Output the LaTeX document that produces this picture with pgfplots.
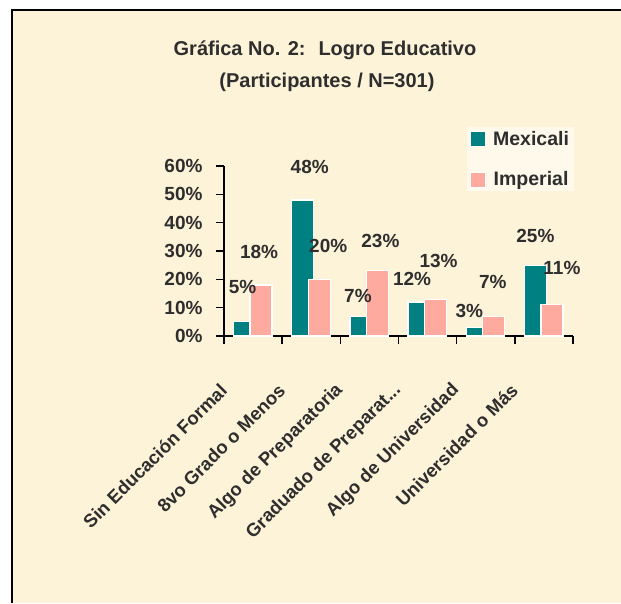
\documentclass[border=0pt]{standalone}
\usepackage{pgfplots}
\pgfplotsset{compat=1.18}
\usepackage{pgfplotstable}
\usepackage{fontspec}
\setmainfont{Liberation Sans}

\definecolor{cream}{HTML}{FDF3D8}
\definecolor{tealbar}{HTML}{008080}
\definecolor{pinkbar}{HTML}{FFAA9F}
\definecolor{ink}{HTML}{2E2E2E}

% x, value, label offset from category centre (dx) and above bar top (dy)
\pgfplotstableread{
x y dx dy
0 5 -10.5 35
1 48 -1.5 33
2 7 -11.5 20
3 12 -15.5 23
4 3 -16.5 17
5 25 -8.5 29
}\mexicali
\pgfplotstableread{
x y dx dy
0 18 6 33
1 20 17 33
2 23 11 30
3 13 11 38
4 7 7 34
5 11 18 37
}\imperial

\begin{document}
\begin{tikzpicture}
\useasboundingbox (0pt,0pt) rectangle (621pt,603pt);
\fill[white] (0pt,0pt) rectangle (621pt,603pt);
\fill[cream] (12pt,0pt) rectangle (621pt,593pt);
\draw[line width=2pt,black] (12pt,0pt) -- (12pt,593pt) -- (621pt,593pt);
\node[font=\fontsize{20}{24}\selectfont\bfseries,text=ink] at (325pt,553pt) {Gráfica No. 2:~ Logro Educativo};
\node[font=\fontsize{20}{24}\selectfont\bfseries,text=ink] at (327pt,521pt) {(Participantes / N=301)};
\begin{axis}[
    at={(224pt,267pt)}, anchor=south west,
    width=349pt, height=170pt, scale only axis,
    xmin=-0.5, xmax=5.5, ymin=0, ymax=60,
    axis x line*=bottom, axis y line*=left,
    axis line style={line width=1.6pt,black},
    tick align=outside,
    tick style={line width=1.4pt,black},
    major tick length=8pt, minor tick length=8pt,
    ytick={0,10,20,30,40,50,60},
    yticklabels={0\%,10\%,20\%,30\%,40\%,50\%,60\%},
    yticklabel style={xshift=-10pt,font=\fontsize{19}{21}\selectfont\bfseries,text=ink},
    xtick={0,1,2,3,4,5},
    major x tick style={draw=none},
    minor xtick={-0.5,0.5,1.5,2.5,3.5,4.5,5.5},
    xticklabels={Sin Educación Formal,8vo Grado o Menos,Algo de Preparatoria,{Graduado de Preparat.{}.{}.},Algo de Universidad,Universidad o Más},
    xticklabel style={xshift=-27pt,yshift=-41pt,rotate=45,anchor=east,
        font=\fontsize{18.5}{20}\selectfont\bfseries,text=ink},
    /pgf/number format/assume math mode=true,
    visualization depends on={\thisrow{dx} \as \ldx},
    visualization depends on={\thisrow{dy} \as \ldy},
    nodes near coords={\pgfmathprintnumber{\pgfplotspointmeta}\%},
    every node near coord/.append style={anchor=center,xshift=\ldx pt,yshift=\ldy pt,
        font=\fontsize{19}{21}\selectfont\bfseries,text=ink},
    legend style={at={(axis description cs:0.696,1.23)},anchor=north west,
        fill=cream!50!white,draw=none,row sep=21pt,
        /tikz/every odd column/.append style={column sep=5pt},
        font=\fontsize{19.5}{21}\selectfont\bfseries,text=ink},
    legend image code/.code={\draw[#1,/tikz/.cd,line width=1pt] (0pt,-7.5pt) rectangle (15pt,7.5pt);},
]
\addplot[ybar,bar width=22pt,bar shift=-8.5pt,fill=tealbar,draw=white,line width=1.2pt,
    point meta=\thisrow{y}] table[x=x,y=y] {\mexicali};
\addplot[ybar,bar width=22pt,bar shift=8pt,fill=pinkbar,draw=white,line width=1.2pt,
    point meta=\thisrow{y}] table[x=x,y=y] {\imperial};
\legend{Mexicali,Imperial}
\end{axis}
\end{tikzpicture}
\end{document}
